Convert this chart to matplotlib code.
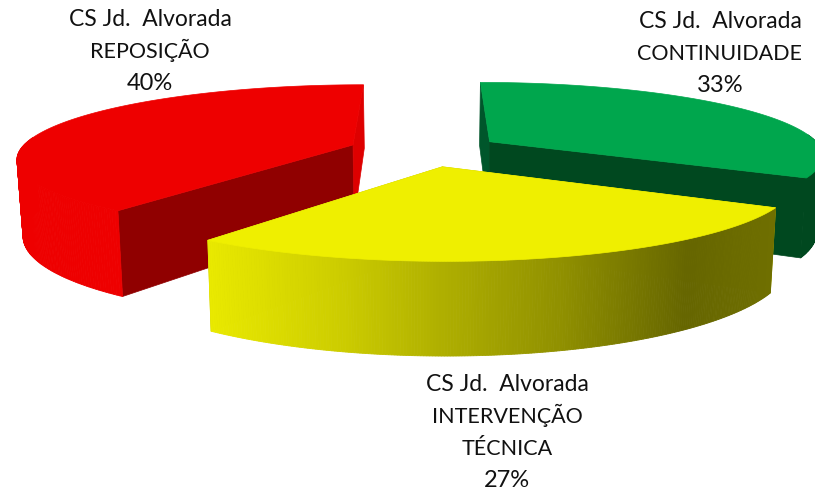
import numpy as np
import matplotlib
matplotlib.use('Agg')
import matplotlib.pyplot as plt
from matplotlib.patches import Polygon

# slices in clockwise order, starting from the back of the pie
slice_names = [['CONTINUIDADE'], ['INTERVENÇÃO', 'TÉCNICA'], ['REPOSIÇÃO']]
slice_values = [33, 27, 40]
place_name = 'CS Jd.  Alvorada'

# projection of the tilted pie onto the picture, in pixels
CX, CY = 425, 150
RX, RY = 333, 72
PERSP = 0.17
EXPLODE = 0.23
DEPTH = 75
LEAN = 0.985


def project(u, v):
    g = 1 / (1 - PERSP * v)
    return CX + RX * u * g, CY + RY * v * g, g


def lower(x, y, g):
    return CX + (x - CX) * LEAN, y + DEPTH * g


def side_face(ax, apex, u, v, color):
    # flat cut face between the centre of a slice and its rim
    x0, y0, g0 = project(*apex)
    x1, y1, g1 = project(apex[0] + u, apex[1] + v)
    bx0, by0 = lower(x0, y0, g0)
    bx1, by1 = lower(x1, y1, g1)
    ax.add_patch(Polygon([(x0, y0), (x1, y1), (bx1, by1), (bx0, by0)],
                         fc=color, ec=color, lw=0.5))


def draw_slice(ax, start, stop, top, cut_start, cut_stop, rim):
    mid = np.radians((start + stop) / 2)
    apex = (EXPLODE * np.sin(mid), -EXPLODE * np.cos(mid))
    phi = np.radians(np.linspace(start, stop, 240))
    u = apex[0] + np.sin(phi)
    v = apex[1] - np.cos(phi)
    x, y, g = project(u, v)
    bx, by = lower(x, y, g)

    side_face(ax, apex, np.sin(phi[0]), -np.cos(phi[0]), cut_start)
    side_face(ax, apex, np.sin(phi[-1]), -np.cos(phi[-1]), cut_stop)

    # outer wall, one small quad per step so it can carry a gradient
    for i in range(len(phi) - 1):
        if v[i] < apex[1] - 0.1 and v[i + 1] < apex[1] - 0.1:
            continue
        c = rim((x[i] + x[i + 1]) / 2)
        ax.add_patch(Polygon([(x[i], y[i]), (x[i + 1], y[i + 1]),
                              (bx[i + 1], by[i + 1]), (bx[i], by[i])],
                             fc=c, ec=c, lw=0.6))

    ax0, ay0, _ = project(*apex)
    ax.add_patch(Polygon(np.vstack([[ax0, ay0], np.column_stack([x, y])]),
                         fc=top, ec=top, lw=0.5))


def yellow_rim(x):
    stops = [208, 340, 440, 560, 688, 778]
    levels = [234, 205, 176, 145, 102, 112]
    k = int(np.interp(x, stops, levels))
    return (k / 255, k / 255, 0)


fig = plt.figure(figsize=(8.15, 4.94), dpi=100)
ax = fig.add_axes([0, 0, 1, 1])
ax.set_xlim(0, 815)
ax.set_ylim(494, 0)
ax.axis('off')

angles = np.cumsum([0] + slice_values) * 3.6

# back slices first, the yellow one sits in front of both
draw_slice(ax, angles[0], angles[1], '#00A64D', '#00562B', '#00481F',
           lambda x: '#00481F')
draw_slice(ax, angles[2], angles[3], '#EE0000', '#900000', '#DE0000',
           lambda x: '#EE0000')
draw_slice(ax, angles[1], angles[2], '#EFEF00', '#C0C000', '#C0C000',
           yellow_rim)

font = dict(family='Lato', color='#111111', ha='center', va='baseline')
label_pos = [(720, 28), (507, 391), (150, 26)]
for name, val, pos in zip(slice_names, slice_values, label_pos):
    lines = [place_name] + name + ['%d%%' % val]
    for i, line in enumerate(lines):
        size = 15.5
        if i == 0:
            size = 16.5
        elif i == len(lines) - 1:
            size = 17
        ax.text(pos[0], pos[1] + i * 32, line, fontsize=size, **font)

fig.savefig('out.png', dpi=100)
